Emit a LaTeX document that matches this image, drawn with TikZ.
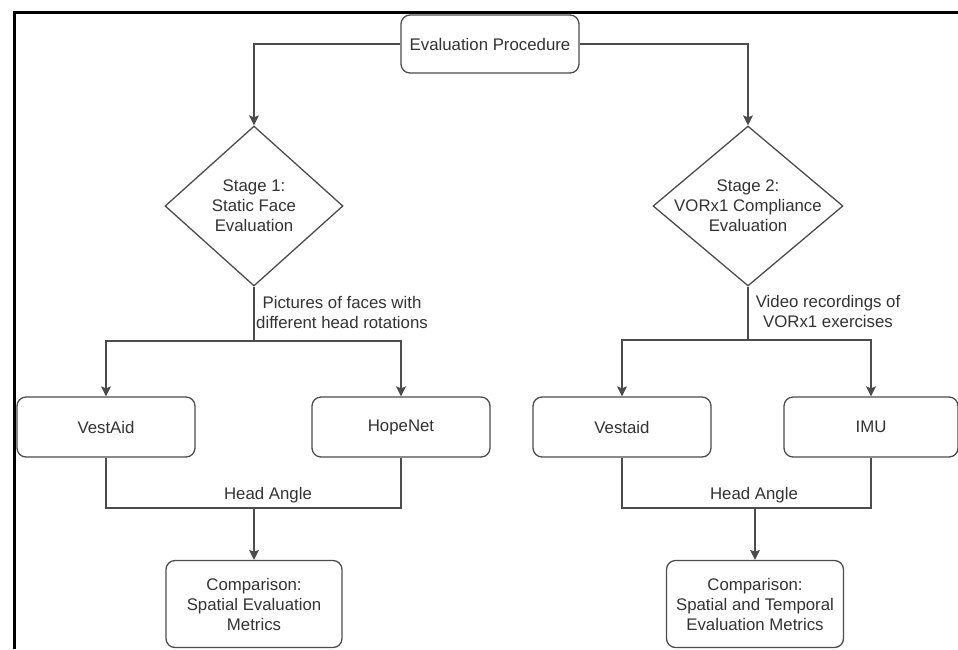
\documentclass[tikz,border=0pt]{standalone}
\usepackage{fontspec}
\setmainfont{Liberation Sans}
\usepackage{tikz}
\usetikzlibrary{arrows.meta}
\usetikzlibrary{shapes.geometric}
\tikzset{
	textstyle/.style={align=center,text=black!80,font=\fontsize{16.8}{20}\selectfont},
	procstyle/.style={textstyle,rectangle,rounded corners=9pt,draw=black!70,line width=1.3pt,fill=white,minimum width=178pt,minimum height=58pt},
	methodstyle/.style={procstyle,minimum height=60pt},
	resultstyle/.style={procstyle,minimum width=176pt,minimum height=87pt},
	stagestyle/.style={diamond,draw=black!70,line width=1.3pt,fill=white,inner sep=0pt,minimum height=160pt},
	linestyle/.style={draw=black!70,line width=1.3pt},
	flowstyle/.style={linestyle,-{Stealth[length=10pt,width=10pt,inset=2pt]}}
}

\begin{document}
\begin{tikzpicture}[x=1pt,y=-1pt]
	\useasboundingbox (0,0) rectangle (958,649);
	\draw[black,line width=3pt] (14,649) -- (14,12) -- (958,12);
	% boxes
	\node[procstyle] (proc) at (490,44) {Evaluation Procedure};
	\node[stagestyle,minimum width=178pt,label={[textstyle]center:{Stage 1:\\Static Face\\Evaluation}}] (stage1) at (254,206) {};
	\node[stagestyle,minimum width=190pt,label={[textstyle]center:{Stage 2:\\VORx1 Compliance\\Evaluation}}] (stage2) at (748,206) {};
	\node[methodstyle] (vestaid1) at (106,427) {VestAid};
	\node[methodstyle] (hopenet) at (401,427) {HopeNet};
	\node[methodstyle] (vestaid2) at (622,427) {Vestaid};
	\node[methodstyle,minimum width=174pt] (imu) at (871,427) {IMU};
	\node[resultstyle] (result1) at (254,604) {Comparison:\\Spatial Evaluation\\Metrics};
	\node[resultstyle,minimum width=177pt] (result2) at (755,604) {Comparison:\\Spatial and Temporal\\Evaluation Metrics};
	% branch points
	\coordinate (split1) at (254,341);
	\coordinate (split2) at (748,340);
	\coordinate (join1) at (254,508);
	\coordinate (join2) at (755,508);
	% connectors
	\draw[flowstyle] (proc.west) -| (stage1.north);
	\draw[flowstyle] (proc.east) -| (stage2.north);
	\draw[linestyle] (stage1.south) -- (split1);
	\draw[linestyle] (stage2.south) -- (split2);
	\draw[flowstyle] (split1) -| (vestaid1.north);
	\draw[flowstyle] (split1) -| (hopenet.north);
	\draw[flowstyle] (split2) -| (vestaid2.north);
	\draw[flowstyle] (split2) -| (imu.north);
	\draw[linestyle] (vestaid1.south) |- (join1) -| (hopenet.south);
	\draw[linestyle] (vestaid2.south) |- (join2) -| (imu.south);
	\draw[flowstyle] (join1) -- (result1.north);
	\draw[flowstyle] (join2) -- (result2.north);
	% labels
	\node[textstyle] (pictures) at (342,312) {Pictures of faces with\\different head rotations};
	\node[textstyle] (videos) at (828,311) {Video recordings of\\VORx1 exercises};
	\node[textstyle] (angle1) at (268,495) {Head Angle};
	\node[textstyle] (angle2) at (754,495) {Head Angle};
\end{tikzpicture}
\end{document}
